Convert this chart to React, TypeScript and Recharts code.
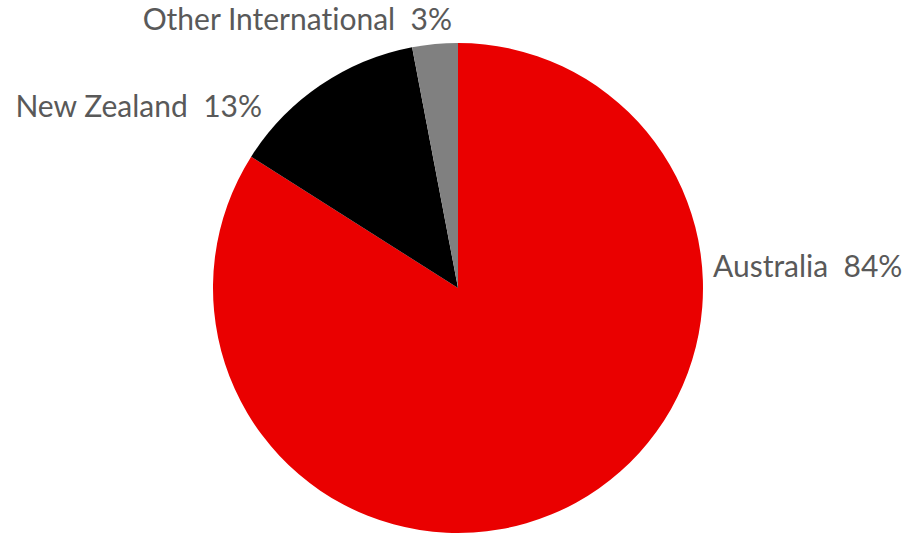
import React from "react";
import { PieChart, Pie, Cell } from "recharts";

const categories = ["Australia", "New Zealand", "Other International"];
const shares = [84, 13, 3];
const colors = ["#EA0000", "#000000", "#808080"];

const data = categories.map((name, i) => ({ name, value: shares[i] }));

// label placement relative to pie centre (dx, dy of baseline, text anchor)
const labelLayout = [
  { dx: 255, dy: -11, anchor: "start" },
  { dx: -196, dy: -171, anchor: "end" },
  { dx: -6, dy: -258, anchor: "end" },
];

const renderLabel = (props: any) => {
  const { cx, cy, index, name, value } = props;
  const l = labelLayout[index];
  return (
    <text
      x={cx + l.dx}
      y={cy + l.dy}
      textAnchor={l.anchor}
      fill="#595959"
      fontSize={30}
      fontFamily="Lato, 'Noto Sans', sans-serif"
      style={{ whiteSpace: "pre", fontVariantLigatures: "none" }}
    >
      {`${name}  ${value}%`}
    </text>
  );
};

export default function App() {
  return (
    <div style={{ position: "absolute", left: 0, top: 0, width: 919, height: 534, background: "#fff" }}>
      <PieChart width={919} height={534} margin={{ top: 0, right: 0, bottom: 0, left: 0 }}>
        <Pie
          data={data}
          dataKey="value"
          nameKey="name"
          cx={458}
          cy={288}
          outerRadius={245}
          startAngle={90}
          endAngle={-270}
          stroke="none"
          label={renderLabel}
          labelLine={false}
          isAnimationActive={false}
        >
          {data.map((d, i) => (
            <Cell key={d.name} fill={colors[i]} />
          ))}
        </Pie>
      </PieChart>
    </div>
  );
}
